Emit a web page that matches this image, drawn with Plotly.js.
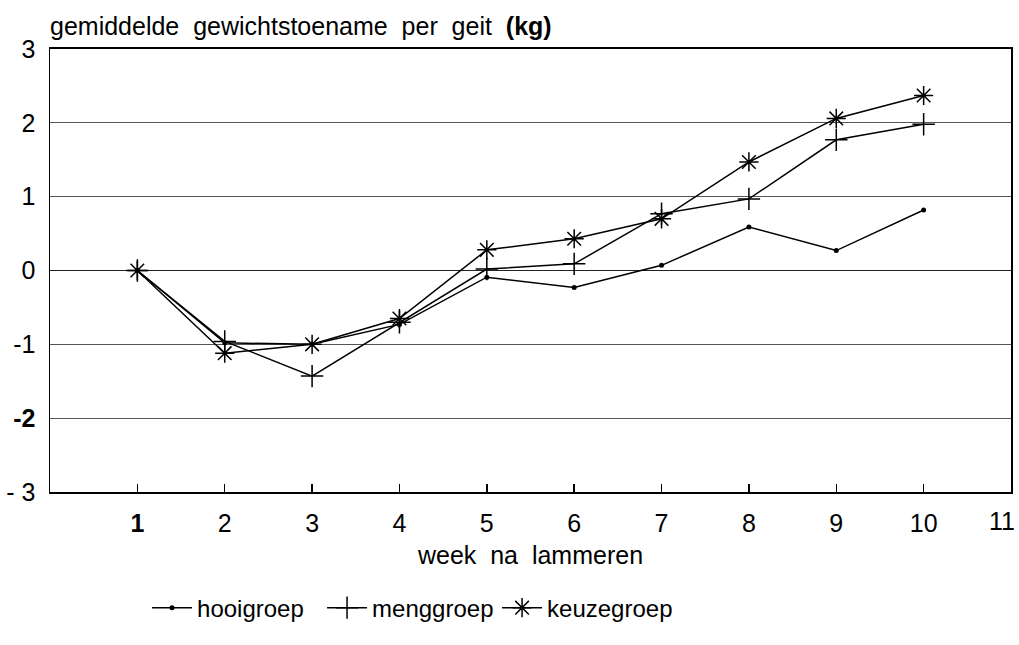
<!DOCTYPE html>
<html>
<head>
<meta charset="utf-8">
<script src="https://cdn.plot.ly/plotly-3.0.1.min.js"></script>
<style>html,body{margin:0;padding:0;background:#fff;}#chart{width:1019px;height:645px;}</style>
</head>
<body>
<div id="chart"></div>
<script>
const weeks = [1, 2, 3, 4, 5, 6, 7, 8, 9, 10];
const hooigroep = [0, -0.98, -1.0, -0.73, -0.09, -0.23, 0.07, 0.59, 0.27, 0.82];
const menggroep = [0, -0.96, -1.43, -0.70, 0.02, 0.09, 0.77, 0.97, 1.77, 1.98];
const keuzegroep = [0, -1.12, -1.0, -0.65, 0.28, 0.43, 0.70, 1.47, 2.06, 2.37];
const xTickVals = [1, 2, 3, 4, 5, 6, 7, 8, 9, 10, 11];
const xTickText = ['<b>1</b>', '2', '3', '4', '5', '6', '7', '8', '9', '10', '11'];
const yTickVals = [3, 2, 1, 0, -1, -2, -3];
const yTickText = ['3', '2', '1', '0', '-1', '<b>-2</b>', '- 3'];

const font = 'Liberation Sans, Arial, sans-serif';
const traces = [
  {x: weeks, y: hooigroep, name: 'hooigroep', mode: 'lines+markers',
   line: {color: '#000', width: 1.5}, marker: {symbol: 'circle', size: 5, color: '#000'}},
  {x: weeks, y: menggroep, name: 'menggroep', mode: 'lines+markers',
   line: {color: '#000', width: 1.5}, marker: {symbol: 'cross-thin', size: 16, line: {color: '#000', width: 1.5}}},
  {x: weeks, y: keuzegroep, name: 'keuzegroep', mode: 'lines+markers',
   line: {color: '#000', width: 1.5}, marker: {symbol: 'asterisk', size: 16, line: {color: '#000', width: 1.5}}}
];
// last tick label is drawn as a right-anchored annotation so it stays inside the page
const lastIdx = xTickVals.length - 1;
const tickTextShown = xTickText.map((t, i) => i === lastIdx ? '' : t);
const layout = {
  width: 1019, height: 645,
  margin: {l: 50, r: 8, t: 49, b: 153},
  paper_bgcolor: '#fff', plot_bgcolor: '#fff',
  font: {family: font, size: 25, color: '#000'},
  title: {text: 'gemiddelde&nbsp; gewichtstoename&nbsp; per&nbsp; geit&nbsp; <b>(kg)</b>', xref: 'container', x: 50/1019, xanchor: 'left',
          yref: 'container', y: 1 - 26/645, yanchor: 'middle', font: {family: font, size: 25, color: '#000'}},
  xaxis: {range: [0, 11], tickvals: xTickVals, ticktext: tickTextShown, ticks: 'inside', ticklen: 8, tickwidth: 1.5,
          tickcolor: '#000', showgrid: false, zeroline: false, showline: true, linecolor: '#000', linewidth: 2,
          mirror: true, tickfont: {size: 25}, ticklabelstandoff: 8,
          title: {text: 'week&nbsp; na&nbsp; lammeren', font: {size: 25}, standoff: 10}},
  yaxis: {range: [-3, 3], tickvals: yTickVals, ticktext: yTickText, ticks: '', showgrid: true, gridcolor: '#555',
          gridwidth: 1, zeroline: true, zerolinecolor: '#222', zerolinewidth: 1.2, showline: true, linecolor: '#000',
          linewidth: 1.5, mirror: true, tickfont: {size: 25}, ticklabelstandoff: 8},
  annotations: [{x: xTickVals[lastIdx], xref: 'x', y: 0, yref: 'paper', text: xTickText[lastIdx], showarrow: false,
                 xanchor: 'right', yanchor: 'top', xshift: 6, yshift: -13, font: {family: font, size: 25, color: '#000'}}],
  showlegend: true,
  legend: {orientation: 'h', x: 0.101, xanchor: 'left', y: -0.262, yanchor: 'middle', font: {size: 24},
           itemwidth: 40, entrywidth: 120, entrywidthmode: 'pixels', bgcolor: 'rgba(0,0,0,0)'}
};
Plotly.newPlot('chart', traces, layout, {displayModeBar: false, staticPlot: true});
</script>
</body>
</html>
